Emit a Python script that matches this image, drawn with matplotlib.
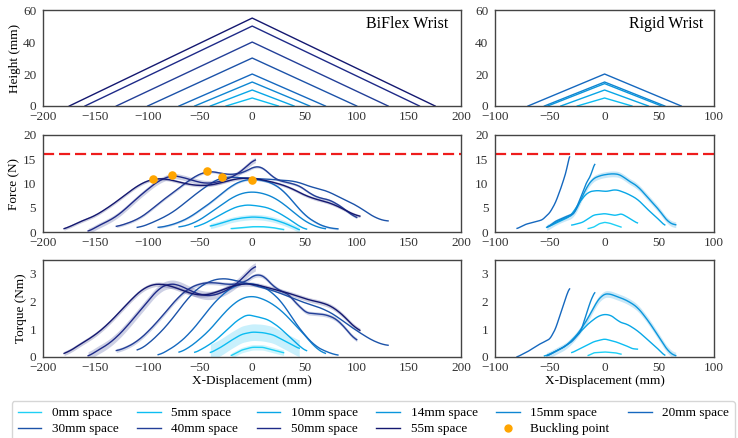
#!/usr/bin/env python3
"""BiFlex vs rigid wrist: height profile, force and torque against x-displacement."""

import matplotlib
matplotlib.use("Agg")
import matplotlib.pyplot as plt
import numpy as np
from matplotlib.lines import Line2D

plt.rcParams["font.family"] = ["Liberation Serif", "DejaVu Serif"]

# ── data ──────────────────────────────────────────────────────────
SPACES = ["0", "5", "10", "14", "15", "20", "30", "40", "50", "55"]
LEGEND_LABELS = ["0mm space", "5mm space", "10mm space", "14mm space", "15mm space",
                 "20mm space", "30mm space", "40mm space", "50mm space", "55m space"]
COLORS = {"0": "#1fd0f5", "5": "#0cbdf2", "10": "#08a6e6", "14": "#0a96dc",
          "15": "#0e86d2", "20": "#1568bf", "30": "#1c52a8", "40": "#233f98",
          "50": "#1e2a88", "55": "#141870"}

# triangle path: apex height and half span (mm)
FLEX_HEIGHT = {"5": 5, "10": 10, "15": 15, "20": 20, "30": 30, "40": 40, "50": 50, "55": 55}
FLEX_HALF = {"5": 25, "10": 40, "15": 55, "20": 70, "30": 100, "40": 130, "50": 160, "55": 175}
RIGID_HEIGHT = {"5": 5, "10": 10, "14": 14, "15": 15, "20": 20}
RIGID_HALF = {"5": 25, "10": 40, "14": 52, "15": 55, "20": 70}

FLEX_FORCE = {
    "0": ([-20, -10, 0, 10, 20, 30], [0.7, 0.9, 1.1, 1.1, 0.9, 0.5]),
    "5": ([-40, -30, -20, -10, 0, 10, 20, 30, 40, 45],
          [1.2, 1.8, 2.5, 2.9, 3.1, 3.0, 2.6, 1.9, 1.0, 0.4]),
    "10": ([-55, -45, -35, -25, -15, -5, 5, 15, 25, 35, 45, 52],
           [1.0, 1.8, 3.0, 4.2, 5.2, 5.6, 5.4, 5.0, 4.0, 2.7, 1.2, 0.5]),
    "15": ([-70, -60, -50, -40, -30, -20, -10, 0, 10, 20, 30, 40, 50, 60, 70],
           [1.0, 1.5, 2.5, 4.0, 5.5, 7.0, 8.0, 8.3, 8.0, 7.2, 5.8, 4.0, 2.3, 1.2, 0.6]),
    "20": ([-90, -80, -70, -60, -50, -40, -30, -20, -10, 0, 10, 20, 30, 40, 50, 60, 70, 82],
           [0.9, 1.3, 2.0, 3.0, 4.5, 6.0, 7.8, 9.5, 10.6, 10.9, 10.7, 10.0, 8.5, 6.0, 3.5,
            2.0, 1.0, 0.6]),
    "30": ([-110, -100, -90, -80, -70, -60, -50, -40, -29, -20, -10, 0, 10, 20, 30, 40, 50,
            60, 70, 80, 90, 100, 110, 120, 130],
           [0.8, 1.5, 2.5, 3.5, 5.0, 6.8, 8.5, 10.0, 11.4, 11.3, 11.2, 11.0, 11.0, 10.8,
            10.6, 10.6, 9.8, 9.0, 8.7, 7.5, 6.5, 5.5, 4.0, 2.6, 2.2]),
    "40": ([-130, -120, -110, -100, -90, -80, -70, -60, -50, -43, -35, -25, -15, -5, 2, 7,
            12, 20, 30, 40, 50, 60, 70, 80, 90, 100],
           [1.0, 1.8, 2.5, 4.0, 5.8, 7.5, 9.0, 10.8, 12.0, 12.6, 12.4, 11.8, 11.9, 12.5,
            13.5, 14.2, 13.0, 11.0, 10.3, 10.0, 9.0, 7.0, 7.0, 6.0, 4.5, 2.6]),
    "50": ([-157, -150, -140, -130, -120, -110, -100, -90, -77, -65, -55, -45, -35, -25,
            -15, -8, 0, 3],
           [0.0, 1.0, 2.0, 3.2, 5.0, 7.0, 8.8, 10.5, 11.7, 11.2, 10.5, 10.0, 10.2, 10.8,
            11.8, 13.0, 14.6, 15.1]),
    "55": ([-180, -172, -165, -155, -145, -135, -125, -115, -105, -95, -85, -75, -65, -55,
            -45, -35, -25, -15, -5, 5, 15, 25, 35, 45, 55, 65, 75, 85, 95, 103],
           [0.3, 1.5, 2.2, 2.8, 4.0, 5.5, 7.0, 8.8, 10.2, 11.0, 11.1, 10.6, 10.0, 9.6, 9.5,
            9.8, 10.5, 11.0, 11.2, 11.0, 10.5, 10.0, 9.3, 8.2, 7.0, 6.6, 6.0, 5.0, 3.8, 3.0]),
}
FLEX_FORCE_BAND = {"0": 0.15, "5": 0.55, "20": 0.2, "40": 0.25, "50": 0.55, "55": 0.3}

FLEX_TORQUE = {
    "0": ([-20, -10, 0, 10, 20, 30], [0.05, 0.25, 0.35, 0.35, 0.25, 0.15]),
    "5": ([-40, -30, -20, -10, 0, 10, 20, 30, 40, 45],
          [0.15, 0.35, 0.6, 0.82, 0.9, 0.88, 0.8, 0.6, 0.4, 0.3]),
    "10": ([-55, -45, -35, -25, -15, -5, 5, 15, 25, 35, 45, 52],
           [0.15, 0.35, 0.6, 0.95, 1.3, 1.53, 1.45, 1.35, 1.1, 0.75, 0.4, 0.2]),
    "15": ([-70, -60, -50, -40, -30, -20, -10, 0, 10, 20, 30, 40, 50, 60, 70],
           [0.15, 0.35, 0.65, 1.0, 1.45, 1.85, 2.12, 2.2, 2.1, 1.9, 1.6, 1.2, 0.8, 0.35, 0.1]),
    "20": ([-90, -80, -70, -60, -50, -40, -30, -20, -10, 0, 10, 20, 30, 40, 50, 60, 70, 82],
           [0.05, 0.25, 0.5, 0.85, 1.3, 1.8, 2.2, 2.5, 2.65, 2.65, 2.55, 2.3, 1.9, 1.3, 0.8,
            0.4, 0.2, 0.05]),
    "30": ([-110, -100, -90, -80, -70, -60, -50, -40, -30, -20, -10, 0, 10, 20, 30, 40, 50,
            60, 70, 80, 90, 100, 110, 120, 130],
           [0.2, 0.45, 0.8, 1.2, 1.7, 2.2, 2.55, 2.75, 2.85, 2.8, 2.7, 2.6, 2.5, 2.4, 2.25,
            2.1, 1.95, 1.85, 1.7, 1.5, 1.2, 0.95, 0.7, 0.5, 0.4]),
    "40": ([-130, -120, -110, -100, -90, -80, -70, -60, -50, -40, -30, -20, -10, 0, 7, 12,
            20, 30, 40, 47, 55, 65, 75, 85, 92, 100],
           [0.2, 0.35, 0.55, 0.9, 1.3, 1.75, 2.2, 2.5, 2.65, 2.7, 2.65, 2.6, 2.65, 2.85,
            3.15, 2.9, 2.5, 2.35, 2.15, 1.6, 1.58, 1.55, 1.5, 1.25, 0.9, 0.52]),
    "50": ([-157, -150, -140, -130, -120, -110, -100, -90, -80, -70, -60, -50, -40, -30,
            -20, -10, -3, 3],
           [0.0, 0.2, 0.4, 0.7, 1.1, 1.55, 2.0, 2.45, 2.65, 2.6, 2.4, 2.25, 2.2, 2.3, 2.5,
            2.8, 3.1, 3.3]),
    "55": ([-180, -170, -160, -150, -140, -130, -120, -110, -100, -90, -80, -70, -60, -50,
            -40, -30, -20, -10, 0, 10, 20, 30, 40, 50, 60, 70, 80, 90, 103],
           [0.05, 0.35, 0.55, 0.8, 1.1, 1.5, 1.9, 2.3, 2.6, 2.65, 2.6, 2.45, 2.3, 2.2, 2.25,
            2.4, 2.55, 2.65, 2.65, 2.55, 2.45, 2.35, 2.25, 2.1, 2.0, 1.95, 1.75, 1.4, 0.85]),
}
FLEX_TORQUE_BAND = {"0": 0.1, "5": 0.3, "40": 0.07, "50": 0.15, "55": 0.08}

RIGID_FORCE = {
    "0": ([-15, -10, -5, 0, 5, 10, 15], [0.7, 1.0, 1.7, 2.0, 1.8, 1.4, 1.0]),
    "5": ([-30, -20, -10, 0, 10, 15, 20, 30], [1.4, 2.0, 3.5, 3.8, 3.4, 3.8, 3.2, 1.8]),
    "10": ([-52, -45, -35, -30, -25, -20, -15, -5, 0, 5, 10, 20, 30, 40, 50, 55],
           [1.0, 1.8, 2.8, 3.5, 5.5, 7.0, 8.3, 8.6, 8.3, 8.5, 8.8, 8.0, 6.8, 4.5, 2.5, 1.2]),
    "14": ([-53, -45, -35, -28, -22, -17, -12, -5, 0, 5, 10, 15, 20, 30, 40, 50, 58, 65],
           [0.8, 2.0, 3.0, 3.5, 6.5, 9.0, 10.8, 11.6, 11.8, 12.0, 12.0, 11.8, 10.8, 9.5,
            7.0, 4.5, 2.0, 1.4]),
    "15": ([-52, -45, -35, -28, -22, -17, -13, -9], [1.0, 2.2, 3.2, 3.8, 7.0, 10.0, 11.5, 14.2]),
    "20": ([-80, -72, -65, -57, -50, -45, -40, -35, -32],
           [0.7, 1.6, 2.0, 2.5, 4.0, 6.0, 9.0, 12.5, 16.0]),
}
RIGID_FORCE_BAND = {"14": 0.6}

RIGID_TORQUE = {
    "0": ([-15, -10, 0, 10, 15], [0.05, 0.15, 0.18, 0.15, 0.1]),
    "5": ([-30, -20, -10, 0, 10, 20, 25, 30], [0.15, 0.35, 0.55, 0.65, 0.55, 0.4, 0.3, 0.28]),
    "10": ([-55, -45, -35, -25, -15, -5, 3, 10, 13, 20, 30, 40, 50, 55],
           [0.02, 0.2, 0.4, 0.8, 1.2, 1.5, 1.55, 1.4, 1.25, 1.2, 0.95, 0.6, 0.25, 0.02]),
    "14": ([-53, -45, -35, -25, -15, -8, -2, 3, 10, 20, 30, 40, 50, 58, 65],
           [0.02, 0.2, 0.4, 0.8, 1.4, 1.95, 2.25, 2.3, 2.2, 2.05, 1.8, 1.3, 0.7, 0.2, 0.02]),
    "15": ([-52, -40, -30, -22, -17, -13, -9], [0.05, 0.3, 0.55, 0.9, 1.5, 2.0, 2.35]),
    "20": ([-80, -70, -60, -50, -45, -40, -35, -32], [0.0, 0.2, 0.45, 0.65, 1.0, 1.6, 2.2, 2.5]),
}
RIGID_TORQUE_BAND = {"14": 0.12}

BUCKLE_X = [-95, -77, -43, -29, 0]
BUCKLE_Y = [11.0, 11.7, 12.6, 11.4, 10.8]
FORCE_LIMIT = 16

# ── figure ────────────────────────────────────────────────────────
fig = plt.figure(figsize=(7.38, 4.38), dpi=100)
L, LW = 0.0585, 0.5665
R, RW = 0.671, 0.2965
rows = [(0.758, 0.219), (0.4703, 0.2215), (0.185, 0.2215)]
axes = [[fig.add_axes([L, b, LW, h]), fig.add_axes([R, b, RW, h])] for b, h in rows]


def smooth(xs, ys, n=200):
    xs = np.asarray(xs, float)
    xx = np.linspace(xs[0], xs[-1], n)
    yy = np.interp(xx, xs, ys)
    k = 7
    pad = np.pad(yy, k, mode="edge")
    yy = np.convolve(pad, np.ones(2 * k + 1) / (2 * k + 1), mode="same")[k:-k]
    return xx, yy


def draw_curves(ax, curves, bands):
    for key in SPACES:
        if key not in curves:
            continue
        xx, yy = smooth(*curves[key])
        if key in bands:
            ax.fill_between(xx, yy - bands[key], yy + bands[key],
                            color=COLORS[key], alpha=0.22, lw=0)
        ax.plot(xx, yy, color=COLORS[key], lw=1.0)


def draw_triangles(ax, heights, halves):
    for key in SPACES:
        if key not in heights:
            continue
        w, h = halves[key], heights[key]
        ax.plot([-w, 0, w], [0, h, 0], color=COLORS[key], lw=1.0)


draw_triangles(axes[0][0], FLEX_HEIGHT, FLEX_HALF)
draw_triangles(axes[0][1], RIGID_HEIGHT, RIGID_HALF)
draw_curves(axes[1][0], FLEX_FORCE, FLEX_FORCE_BAND)
draw_curves(axes[1][1], RIGID_FORCE, RIGID_FORCE_BAND)
draw_curves(axes[2][0], FLEX_TORQUE, FLEX_TORQUE_BAND)
draw_curves(axes[2][1], RIGID_TORQUE, RIGID_TORQUE_BAND)

for ax in axes[1]:
    ax.axhline(FORCE_LIMIT, color="#ee1c1c", lw=1.6, ls=(0, (5, 2.2)))
axes[1][0].scatter(BUCKLE_X, BUCKLE_Y, s=38, color="orange", zorder=5, lw=0)

axes[0][0].text(0.97, 0.86, "BiFlex Wrist", transform=axes[0][0].transAxes,
                ha="right", va="center", fontsize=11.5)
axes[0][1].text(0.95, 0.86, "Rigid Wrist", transform=axes[0][1].transAxes,
                ha="right", va="center", fontsize=11.5)

ylims = [(0, 60, [0, 20, 40, 60]), (0, 20, [0, 5, 10, 15, 20]), (0, 3.5, [0, 1, 2, 3])]
ylabels = ["Height (mm)", "Force (N)", "Torque (Nm)"]
for r, (lo, hi, ticks) in enumerate(ylims):
    for c, ax in enumerate(axes[r]):
        ax.set_ylim(lo, hi)
        ax.set_yticks(ticks)
        if c == 0:
            ax.set_xlim(-200, 200)
            ax.set_xticks(np.arange(-200, 201, 50))
            ax.set_ylabel(ylabels[r], fontsize=9.5, labelpad=1.5)
        else:
            ax.set_xlim(-100, 100)
            ax.set_xticks(np.arange(-100, 101, 50))
        ax.tick_params(axis="y", length=0, pad=5, labelsize=9.5, colors="#333333")
        ax.tick_params(axis="x", length=0, pad=3.5, labelsize=9.5, colors="#333333")
        for s in ax.spines.values():
            s.set_color("#444444")
            s.set_linewidth(1.0)
        if r == 2:
            ax.set_xlabel("X-Displacement (mm)", fontsize=9.5, labelpad=1)

# legend fills column by column, so order entries to read row-wise
line_handles = [Line2D([], [], color=COLORS[k], lw=1.0) for k in SPACES]
buckle_handle = Line2D([], [], color="orange", marker="o", ls="none", markersize=5)
all_handles = line_handles + [buckle_handle]
all_labels = LEGEND_LABELS + ["Buckling point"]
ncol = 6
order = []
for c in range(ncol):
    for r in range(2):
        i = r * ncol + c
        if i < len(all_handles):
            order.append(i)
fig.legend([all_handles[i] for i in order], [all_labels[i] for i in order],
           loc="upper left", bbox_to_anchor=(0.016, -0.3, 0.98, 0.3845),
           mode="expand", ncol=ncol, fontsize=9.5, frameon=True, edgecolor="#cccccc",
           handlelength=1.8, borderpad=0.45, labelspacing=0.3, borderaxespad=0)

plt.savefig("out.png", dpi=100)
plt.close()
